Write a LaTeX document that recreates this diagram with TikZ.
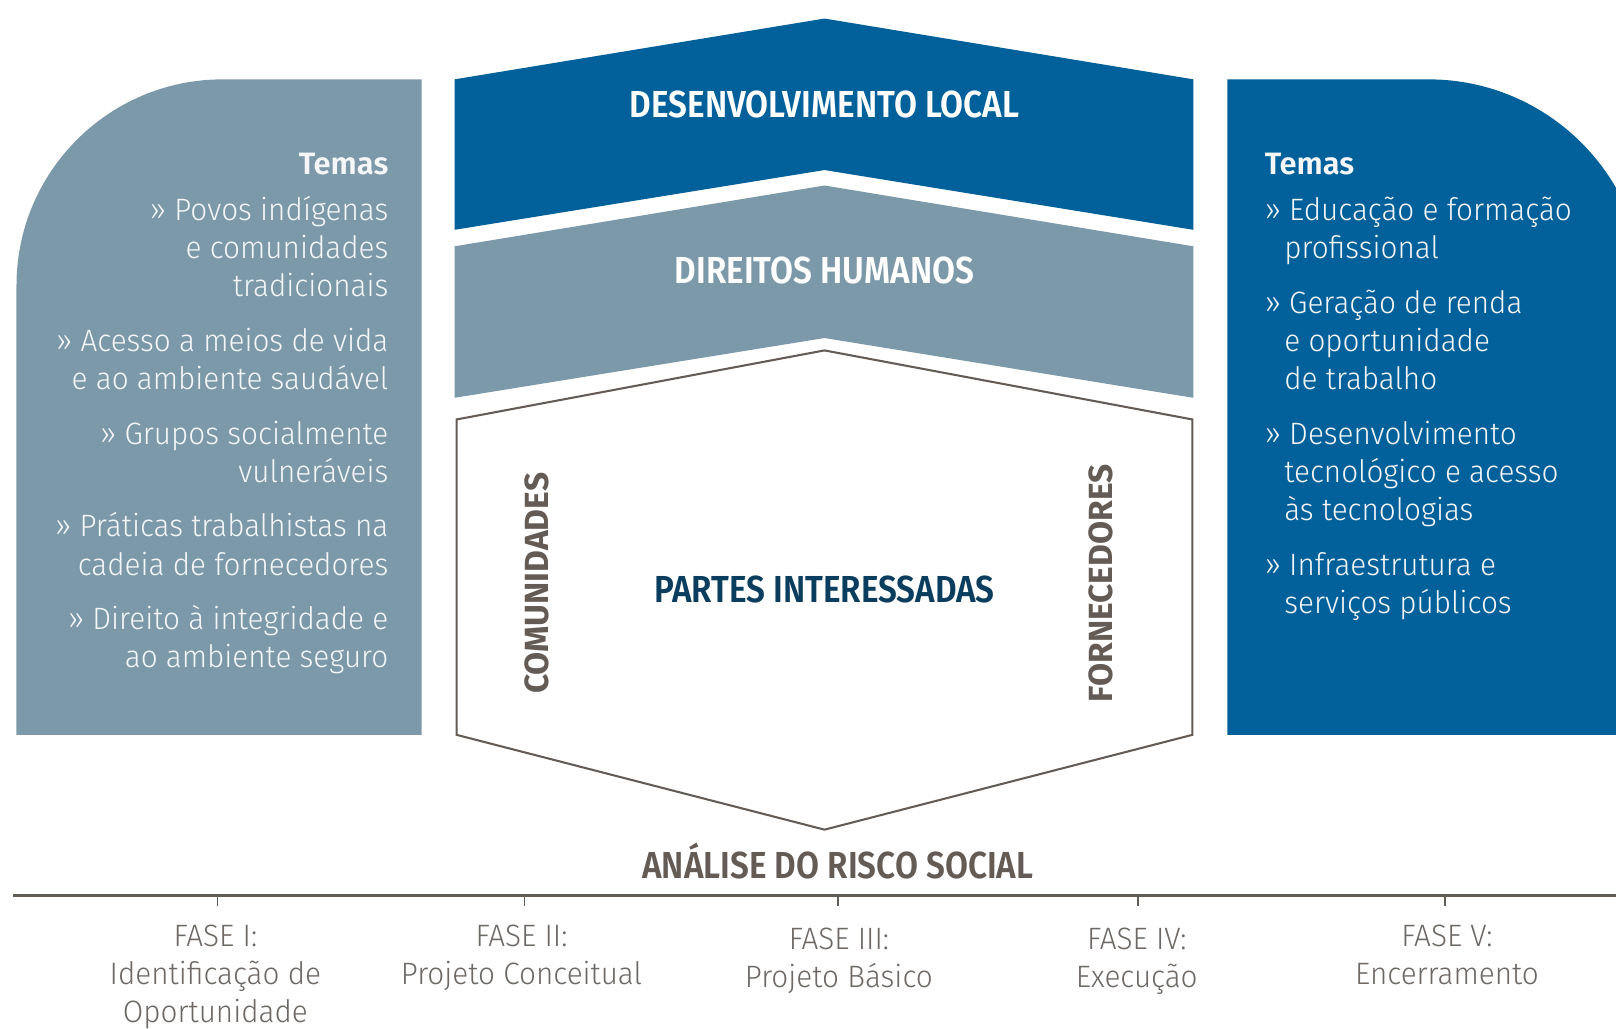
\documentclass[tikz,border=0pt]{standalone}
\usepackage{fontspec}
\setmainfont{Fira Sans}[UprightFont={* Light}, BoldFont={* SemiBold}, UprightFeatures={FakeStretch=0.96}]
\newfontfamily\headfont{Fira Sans}[UprightFont={* SemiBold}, FakeStretch=0.885]
\newfontfamily\sidefont{Fira Sans}[UprightFont={* Bold}]
\usetikzlibrary{positioning,calc}

\definecolor{valeblue}{HTML}{02609A}
\definecolor{valegrey}{HTML}{7C99A9}
\definecolor{navytext}{HTML}{0B3D5F}
\definecolor{earth}{HTML}{645B55}
\definecolor{phasegrey}{HTML}{6E6864}
\definecolor{paper}{HTML}{F4F6F8}

\tikzset{
  listtext/.style={inner sep=0, text=paper, font=\fontsize{30}{37}\selectfont},
  leftitem/.style={listtext, anchor=base east},
  rightitem/.style={listtext, anchor=base west},
  heading/.style={inner sep=0, anchor=base, font=\fontsize{36.5}{40}\headfont},
  sidelabel/.style={inner sep=0, rotate=90, text=earth, font=\fontsize{32.5}{36}\sidefont},
  phase/.style={inner sep=0, anchor=north, align=center, text=phasegrey,
    font=\fontsize{30}{37}\selectfont}
}

\begin{document}
\begin{tikzpicture}[x=1pt, y=-1pt]
\useasboundingbox (0,0) rectangle (1568,998);

% side panels
\fill[valegrey] (16,713) -- (16,277) .. controls (16,166.6) and (105.6,77) .. (216,77)
  -- (409,77) -- (409,713) -- cycle;
\fill[valeblue] (1191,713) -- (1191,77) -- (1386,77) .. controls (1501.9,77) and (1596,171.1) .. (1596,287)
  -- (1596,713) -- cycle;

% chevrons
\fill[valeblue] (441,77) -- (800,18) -- (1158,77) -- (1158,223) -- (800,165) -- (441,223) -- cycle;
\fill[valegrey] (441,239) -- (800,180) -- (1158,239) -- (1158,386) -- (800,328) -- (441,386) -- cycle;
\draw[earth, line width=2] (443,407) -- (800,340) -- (1157,407) -- (1157,713) -- (800,805) -- (443,713) -- cycle;

\node[heading, text=white] (local) at (800,114) {DESENVOLVIMENTO LOCAL};
\node[heading, text=white] (direitos) at (800,275) {DIREITOS HUMANOS};
\node[heading, text=navytext] (partes) at (800,585) {PARTES INTERESSADAS};
\node[sidelabel] (comunidades) at (521,566) {COMUNIDADES};
\node[sidelabel] (fornecedores) at (1068,566) {FORNECEDORES};

% left list
\node[leftitem, font=\fontsize{30}{37}\bfseries] (temasL) at (377,169) {Temas};
\foreach \y/\txt in {214/{» Povos indígenas}, 251/{e comunidades}, 288/{tradicionais},
  341/{» Acesso a meios de vida}, 378/{e ao ambiente saudável},
  431/{» Grupos socialmente}, 468/{vulneráveis},
  521/{» Práticas trabalhistas na}, 558/{cadeia de fornecedores},
  611/{» Direito à integridade e}, 648/{ao ambiente seguro}}
  \node[leftitem] (left-\y) at (377,\y) {\txt};

% right list
\node[rightitem, font=\fontsize{30}{37}\bfseries] (temasR) at (1227,169) {Temas};
\foreach \y/\txt in {214/{» Educação e formação}, 304/{» Geração de renda},
  431/{» Desenvolvimento}, 558/{» Infraestrutura e}}
  \node[rightitem] (right-\y) at (1227,\y) {\txt};
\foreach \y/\txt in {251/{profissional}, 341/{e oportunidade}, 378/{de trabalho},
  468/{tecnológico e acesso}, 505/{às tecnologias}, 595/{serviços públicos}}
  \node[rightitem] (right-\y) at (1246,\y) {\txt};

% phases
\node[heading, text=earth] (risco) at (813,852) {ANÁLISE DO RISCO SOCIAL};
\coordinate (axisL) at (13,869);
\coordinate (axisR) at (1568,869);
\draw[earth, line width=3] (axisL) -- (axisR);
\foreach \x in {211,509,813,1104,1402}
  \draw[earth, line width=1.5] (\x,869) -- (\x,879);

\node[phase] (fase1) at (209,897) {FASE I:\\Identificação de\\Oportunidade};
\node[phase] (fase2) at (506,897) {FASE II:\\Projeto Conceitual};
\node[phase] (fase3) at (814,900) {FASE III:\\Projeto Básico};
\node[phase] (fase4) at (1103,900) {FASE IV:\\Execução};
\node[phase] (fase5) at (1404,897) {FASE V:\\Encerramento};
\end{tikzpicture}
\end{document}
